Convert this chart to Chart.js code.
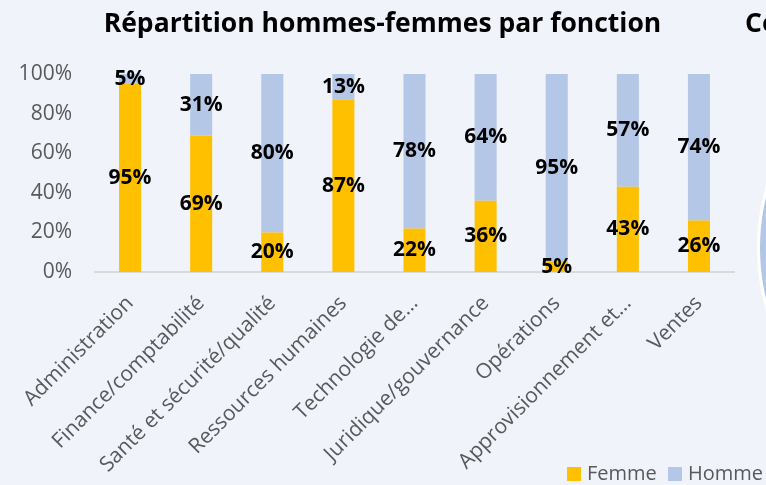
<!DOCTYPE html>
<html><head><meta charset="utf-8">
<script src="https://cdn.jsdelivr.net/npm/chart.js@4.4.1/dist/chart.umd.min.js"></script>
<style>
html,body{margin:0;padding:0;width:766px;height:485px;overflow:hidden;background:#F0F3FA;}
#main{position:absolute;left:0;top:0;}
#pie{position:absolute;left:757px;top:28px;}
</style></head><body>
<canvas id="main" width="766" height="485"></canvas>
<canvas id="pie" width="440" height="440"></canvas>
<script>
const categories = ['Administration','Finance/comptabilité','Santé et sécurité/qualité','Ressources humaines','Technologie de…','Juridique/gouvernance','Opérations','Approvisionnement et…','Ventes'];
const femmeValues = [95,69,20,87,22,36,5,43,26];
const hommeValues = [5,31,80,13,78,64,95,57,74];
const yTickValues = [0,20,40,60,80,100];
const seriesNames = ['Femme','Homme'];
const chartTitle = 'Répartition hommes-femmes par fonction';
const nextChartTitle = 'Co';
const pieVisibleValues = [1];

const COL_F = '#FFC000', COL_H = '#B4C7E7', TXT = '#595959';
const FONT = "'Open Sans', sans-serif";

const decor = {
  id: 'decor',
  afterDatasetsDraw(chart) {
    const ctx = chart.ctx;
    ctx.save();
    ctx.font = "bold 21px " + FONT;
    ctx.fillStyle = '#000';
    ctx.textAlign = 'center';
    ctx.textBaseline = 'middle';
    chart.data.datasets.forEach((ds, di) => {
      const meta = chart.getDatasetMeta(di);
      meta.data.forEach((el, i) => {
        const p = el.getCenterPoint();
        ctx.fillText(ds.data[i] + '%', p.x, p.y);
      });
    });
    ctx.restore();
  },
  afterDraw(chart) {
    const ctx = chart.ctx;
    ctx.save();
    ctx.fillStyle = '#000';
    ctx.font = "bold 26.5px " + FONT;
    ctx.textBaseline = 'alphabetic';
    ctx.textAlign = 'center';
    ctx.fillText(chartTitle, 382.5, 32);
    ctx.textAlign = 'left';
    ctx.fillText(nextChartTitle, 745, 32);
    // legend
    ctx.font = "20px " + FONT;
    const items = [[seriesNames[0], COL_F, 567], [seriesNames[1], COL_H, 668]];
    items.forEach(([t, c, x]) => {
      ctx.fillStyle = c;
      ctx.fillRect(x, 467, 14, 14);
      ctx.fillStyle = TXT;
      ctx.fillText(t, x + 20, 480);
    });
    ctx.restore();
  }
};

new Chart(document.getElementById('main'), {
  type: 'bar',
  data: {
    labels: categories,
    datasets: [
      { label: seriesNames[0], data: femmeValues, backgroundColor: COL_F, barPercentage: 0.31, categoryPercentage: 1 },
      { label: seriesNames[1], data: hommeValues, backgroundColor: COL_H, barPercentage: 0.31, categoryPercentage: 1 }
    ]
  },
  options: {
    responsive: false,
    devicePixelRatio: 1,
    animation: false,
    layout: { padding: { top: 74, left: 0, right: 31.5, bottom: 0 } },
    plugins: { legend: { display: false }, title: { display: false }, tooltip: { enabled: false } },
    scales: {
      x: {
        stacked: true,
        grid: { display: false, drawTicks: false },
        border: { display: true, color: '#D9D9D9', width: 2 },
        ticks: { autoSkip: false, minRotation: 45, maxRotation: 45, padding: 19, color: TXT, font: { family: FONT, size: 21 } },
        afterFit(s) { s.height = 213; }
      },
      y: {
        stacked: true,
        min: 0, max: 100,
        grid: { display: false, drawTicks: false },
        border: { display: false },
        afterBuildTicks(s) { s.ticks = yTickValues.map(v => ({ value: v })); },
        ticks: { padding: 22.5, color: TXT, font: { family: FONT, size: 21 }, callback: v => v + '%' },
        afterFit(s) { s.width = 94.5; }
      }
    }
  },
  plugins: [decor]
});

new Chart(document.getElementById('pie'), {
  type: 'pie',
  data: { labels: ['visible'], datasets: [{ data: pieVisibleValues, backgroundColor: COL_H, borderColor: '#FFFFFF', borderWidth: 3 }] },
  options: { responsive: false, devicePixelRatio: 1, animation: false, plugins: { legend: { display: false }, tooltip: { enabled: false } } }
});
</script>
</body></html>
